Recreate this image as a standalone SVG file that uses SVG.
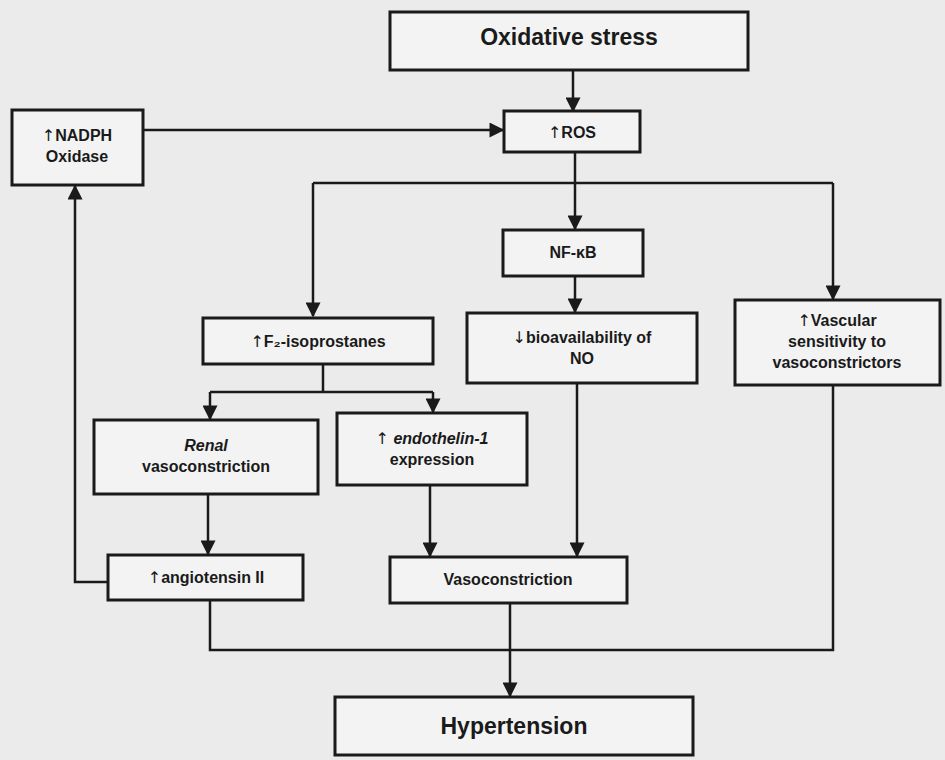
<svg xmlns="http://www.w3.org/2000/svg" width="945" height="760" viewBox="0 0 945 760">
<defs>
<marker id="ah" viewBox="0 0 10 10" refX="9" refY="5" markerWidth="16" markerHeight="15" orient="auto" markerUnits="userSpaceOnUse">
<path d="M0,0 L10,5 L0,10 z" fill="#1a1a1a"/>
</marker>
<style>
.bx{fill:#f3f3f3;stroke:#1a1a1a;stroke-width:3}
.t{font-family:"Liberation Sans","DejaVu Sans",Arial,sans-serif;font-weight:bold;font-size:16px;fill:#1a1a1a;text-anchor:middle}
.big{font-size:23px}
.a{font-family:"DejaVu Sans",sans-serif;font-weight:normal}
.ln{fill:none;stroke:#1a1a1a;stroke-width:2.5}
.ar{fill:none;stroke:#1a1a1a;stroke-width:2.5;marker-end:url(#ah)}
</style>
</defs>
<rect width="945" height="760" fill="#ebebeb"/>
<g id="connectors">
<path class="ar" d="M573,70 V111"/>
<path class="ar" d="M143,130 H503"/>
<path class="ln" d="M575,152 V183"/>
<path class="ln" d="M313,183 H833"/>
<path class="ar" d="M575,183 V229"/>
<path class="ar" d="M313,183 V316"/>
<path class="ar" d="M833,183 V299"/>
<path class="ar" d="M575,276 V312"/>
<path class="ln" d="M323,364 V392"/>
<path class="ln" d="M210,392 H433"/>
<path class="ar" d="M210,392 V419"/>
<path class="ar" d="M433,392 V412"/>
<path class="ar" d="M208,494 V554"/>
<path class="ar" d="M430,485 V556"/>
<path class="ar" d="M577,383 V556"/>
<path class="ar" d="M108,582 H75 V186"/>
<path class="ln" d="M210,600 V650 H833 V385"/>
<path class="ar" d="M510,603 V696"/>
</g>
<g id="oxidative-stress"><rect class="bx" x="390" y="12" width="358" height="58"/><text class="t big" x="569" y="45">Oxidative stress</text></g>
<g id="ros"><rect class="bx" x="504" y="111" width="136" height="41"/><text class="t" x="572" y="138"><tspan class="a">↑</tspan>ROS</text></g>
<g id="nadph"><rect class="bx" x="12" y="110" width="131" height="75"/><text class="t" x="77" y="141"><tspan class="a">↑</tspan>NADPH</text><text class="t" x="77" y="162">Oxidase</text></g>
<g id="nfkb"><rect class="bx" x="503" y="230" width="140" height="46"/><text class="t" x="573" y="258">NF-κB</text></g>
<g id="f2-isoprostanes"><rect class="bx" x="203" y="318" width="230" height="46"/><text class="t" x="318" y="347"><tspan class="a">↑</tspan>F₂-isoprostanes</text></g>
<g id="bioavailability"><rect class="bx" x="467" y="313" width="230" height="70"/><text class="t" x="582" y="343"><tspan class="a">↓</tspan>bioavailability of</text><text class="t" x="582" y="364">NO</text></g>
<g id="vascular"><rect class="bx" x="735" y="300" width="205" height="85"/><text class="t" x="837" y="326"><tspan class="a">↑</tspan>Vascular</text><text class="t" x="837" y="347">sensitivity to</text><text class="t" x="837" y="368">vasoconstrictors</text></g>
<g id="renal"><rect class="bx" x="94" y="420" width="224" height="74"/><text class="t" x="206" y="451"><tspan font-style="italic">Renal</tspan></text><text class="t" x="206" y="472">vasoconstriction</text></g>
<g id="endothelin"><rect class="bx" x="337" y="413" width="190" height="72"/><text class="t" x="432" y="444"><tspan class="a">↑</tspan> <tspan font-style="italic">endothelin-1</tspan></text><text class="t" x="432" y="465">expression</text></g>
<g id="angiotensin"><rect class="bx" x="108" y="555" width="195" height="45"/><text class="t" x="206" y="583"><tspan class="a">↑</tspan>angiotensin II</text></g>
<g id="vasoconstriction"><rect class="bx" x="390" y="557" width="237" height="46"/><text class="t" x="508" y="585">Vasoconstriction</text></g>
<g id="hypertension"><rect class="bx" x="335" y="697" width="358" height="58"/><text class="t big" x="514" y="734">Hypertension</text></g>
</svg>
